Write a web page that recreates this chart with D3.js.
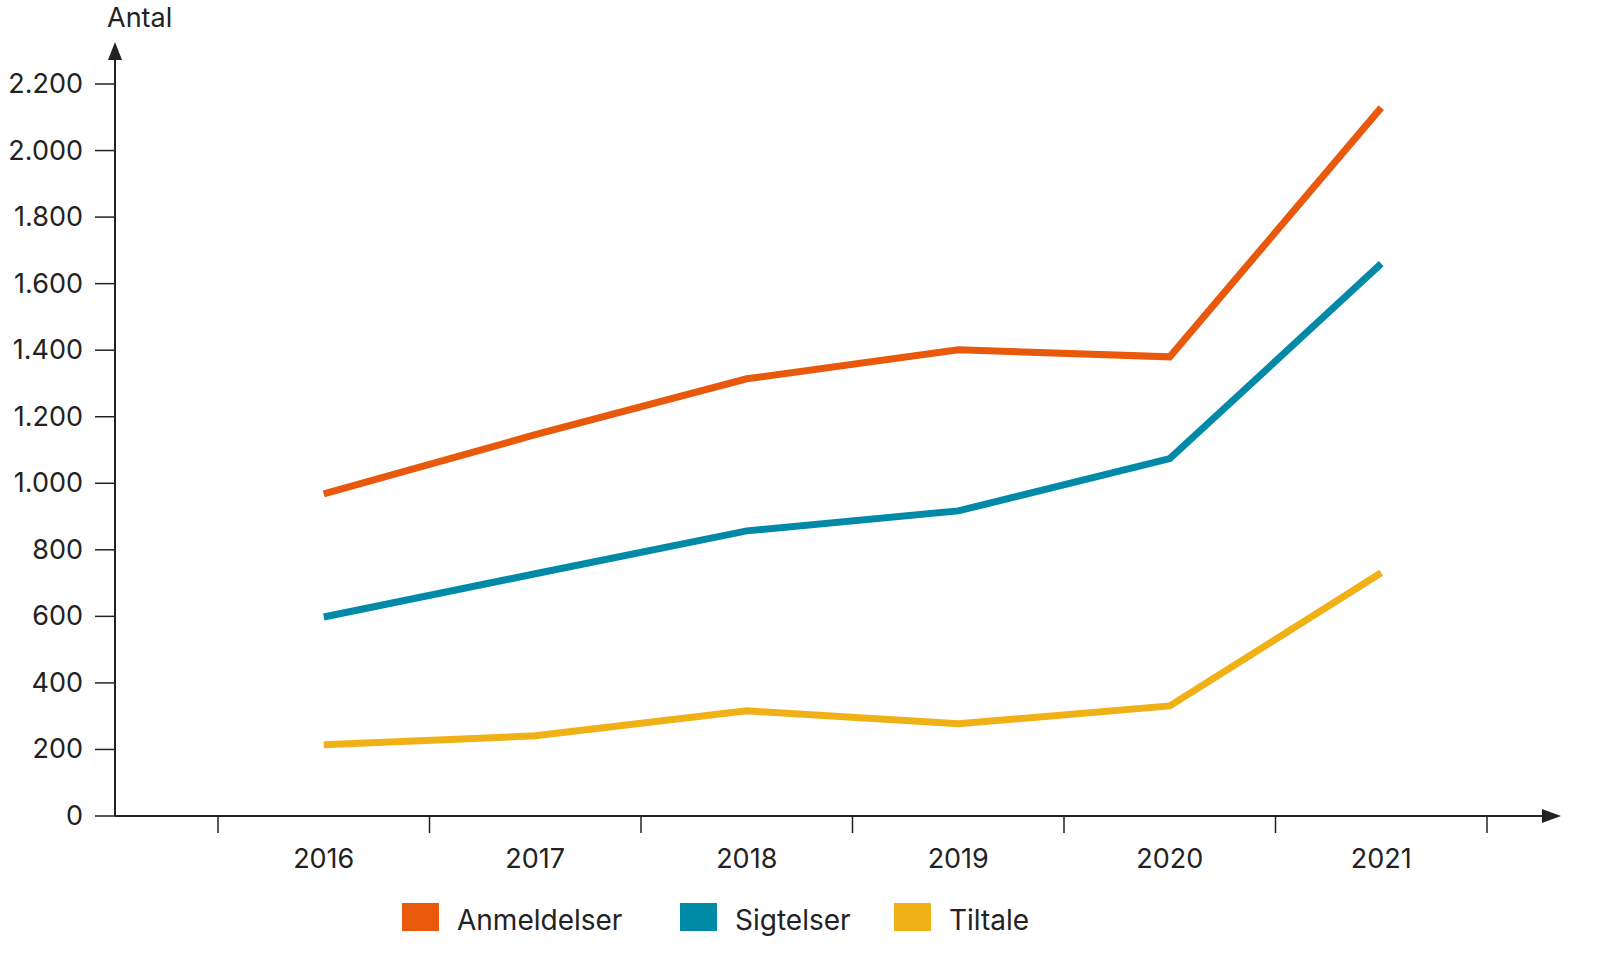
<!DOCTYPE html>
<html><head><meta charset="utf-8">
<script src="https://cdn.jsdelivr.net/npm/d3@7"></script>
<style>body{margin:0;background:#fff}text{font-family:Inter,Roboto,sans-serif;fill:#222}</style>
</head><body>
<script>
const years = [2016, 2017, 2018, 2019, 2020, 2021]
const anmeldelser = [968, 1146, 1314, 1401, 1380, 2129]
const sigtelser = [598, 728, 857, 917, 1074, 1660]
const tiltale = [214, 241, 316, 277, 331, 731]
const yTicks = [0, 200, 400, 600, 800, 1000, 1200, 1400, 1600, 1800, 2000, 2200]
const seriesNames = ["Anmeldelser", "Sigtelser", "Tiltale"]
const colors = ["#e8590c", "#008aa8", "#f0b116"]

const svg = d3.select("body").append("svg").attr("width", 1607).attr("height", 966)
const x = d3.scaleLinear().domain([2015.5, 2021.5]).range([218, 1487])
const y = d3.scaleLinear().domain([0, 2200]).range([816, 84])
const fmt = d => d3.format(",")(d).replace(/,/g, ".")

// y axis
svg.append("line").attr("x1", 115).attr("x2", 115).attr("y1", 816).attr("y2", 50).attr("stroke", "#222").attr("stroke-width", 2)
svg.append("path").attr("d", "M108,60 L115,42 L122,60 Z").attr("fill", "#222")
svg.append("text").attr("x", 107).attr("y", 27).attr("font-size", 27).text("Antal")
yTicks.forEach(t => {
  svg.append("line").attr("x1", 95).attr("x2", 115).attr("y1", y(t)).attr("y2", y(t)).attr("stroke", "#222").attr("stroke-width", 1.5)
  svg.append("text").attr("x", 83).attr("y", y(t) + 9).attr("text-anchor", "end").attr("font-size", 27).text(fmt(t))
})
// x axis
svg.append("line").attr("x1", 115).attr("x2", 1550).attr("y1", 816).attr("y2", 816).attr("stroke", "#222").attr("stroke-width", 2)
svg.append("path").attr("d", "M1542,809 L1561,816 L1542,823 Z").attr("fill", "#222")
d3.range(2015.5, 2022, 1).forEach(t => {
  svg.append("line").attr("x1", x(t)).attr("x2", x(t)).attr("y1", 816).attr("y2", 833).attr("stroke", "#222").attr("stroke-width", 1.5)
})
years.forEach(yr => {
  svg.append("text").attr("x", x(yr)).attr("y", 868).attr("text-anchor", "middle").attr("font-size", 27).text(yr)
})

const line = d3.line().x((d, i) => x(years[i])).y(d => y(d))
;[anmeldelser, sigtelser, tiltale].forEach((s, i) => {
  svg.append("path").attr("d", line(s)).attr("fill", "none").attr("stroke", colors[i]).attr("stroke-width", 7)
})

// legend
const lx = [402, 680, 894]
seriesNames.forEach((n, i) => {
  svg.append("rect").attr("x", lx[i]).attr("y", 903).attr("width", 37).attr("height", 28).attr("fill", colors[i])
  svg.append("text").attr("x", lx[i] + 55).attr("y", 930).attr("font-size", 28).text(n)
})
</script>
</body></html>
